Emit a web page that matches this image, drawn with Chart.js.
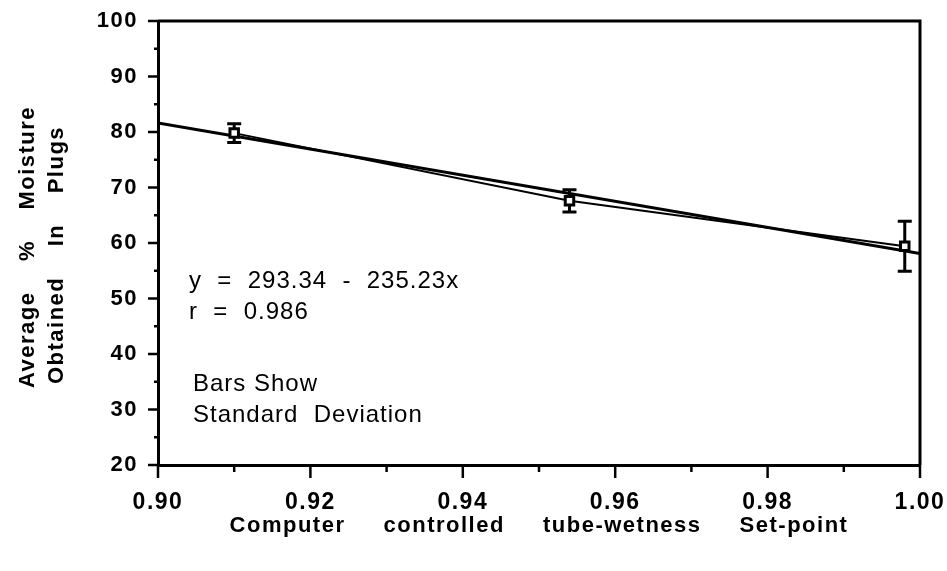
<!DOCTYPE html>
<html>
<head>
<meta charset="utf-8">
<script src="https://cdn.jsdelivr.net/npm/chart.js@4"></script>
<style>
  body { margin: 0; background: #fff; }
  #wrap { width: 947px; height: 571px; }
</style>
</head>
<body>
<div id="wrap"><canvas id="moistureChart" width="947" height="571"></canvas></div>
<script>
// values
const setPoints = [0.910, 0.954, 0.998];
const meanMoisture = [79.8, 67.6, 59.4];
const stdDev = [1.7, 2.0, 4.5];

// fitted line y = 293.34 - 235.23x, ends at the axis limits
const fitX = [0.90, 1.00];
const fitY = [81.63, 58.11];

const equationText = 'y  =  293.34  -  235.23x';
const rText = 'r  =  0.986';
const noteLines = ['Bars Show', 'Standard  Deviation'];
const yTitleLines = ['Average    %    Moisture', 'Obtained    In    Plugs'];
const xTitle = 'Computer     controlled     tube-wetness     Set-point';

const FONT = '"Liberation Sans", Arial, Helvetica, sans-serif';

const toXY = (xs, ys) => xs.map((x, i) => ({ x: x, y: ys[i] }));

// draws frame, ticks, error bars and the text on the plot
const decorations = {
  id: 'decorations',
  beforeDraw(chart) {
    chart.ctx.letterSpacing = '1.5px';
  },
  beforeDatasetsDraw(chart) {
    const ctx = chart.ctx;
    const xs = chart.scales.x, ys = chart.scales.y;
    ctx.save();
    ctx.strokeStyle = '#000';
    ctx.lineWidth = 3;
    setPoints.forEach((sp, i) => {
      const px = xs.getPixelForValue(sp);
      const top = ys.getPixelForValue(meanMoisture[i] + stdDev[i]);
      const bot = ys.getPixelForValue(meanMoisture[i] - stdDev[i]);
      ctx.beginPath();
      ctx.moveTo(px, top); ctx.lineTo(px, bot);
      ctx.moveTo(px - 7, top); ctx.lineTo(px + 7, top);
      ctx.moveTo(px - 7, bot); ctx.lineTo(px + 7, bot);
      ctx.stroke();
    });
    ctx.restore();
  },
  afterDraw(chart) {
    const ctx = chart.ctx;
    const a = chart.chartArea;
    const xs = chart.scales.x, ys = chart.scales.y;
    ctx.save();
    ctx.strokeStyle = '#000';
    ctx.lineWidth = 3;
    // top and right sides of the box
    ctx.beginPath();
    ctx.moveTo(a.left, a.top); ctx.lineTo(a.right, a.top); ctx.lineTo(a.right, a.bottom);
    ctx.stroke();

    // y ticks: major every 10, minor every 5
    ctx.lineWidth = 2.5;
    for (let v = 20; v <= 100; v += 5) {
      const py = ys.getPixelForValue(v);
      const len = v % 10 === 0 ? 10 : 4;
      ctx.beginPath(); ctx.moveTo(a.left - len, py); ctx.lineTo(a.left, py); ctx.stroke();
    }
    // x ticks: major every 0.02, minor every 0.01
    for (let k = 0; k <= 10; k++) {
      const px = xs.getPixelForValue(0.9 + k * 0.01);
      const len = k % 2 === 0 ? 13 : 7;
      ctx.beginPath(); ctx.moveTo(px, a.bottom); ctx.lineTo(px, a.bottom + len); ctx.stroke();
    }

    // text inside the plot
    ctx.fillStyle = '#000';
    ctx.textBaseline = 'middle';
    ctx.textAlign = 'left';
    ctx.letterSpacing = '1px';
    ctx.font = '24px ' + FONT;
    ctx.fillText(equationText, 189, 281);
    ctx.fillText(rText, 189, 312);
    ctx.fillText(noteLines[0], 193, 384);
    ctx.fillText(noteLines[1], 193, 415);

    // axis titles
    ctx.font = 'bold 22px ' + FONT;
    ctx.letterSpacing = '1.5px';
    ctx.textAlign = 'center';
    ctx.fillText(xTitle, 539, 526);
    ctx.save();
    ctx.translate(28, 247);
    ctx.rotate(-Math.PI / 2);
    ctx.fillText(yTitleLines[0], 0, 0);
    ctx.fillText(yTitleLines[1], -8, 29);
    ctx.restore();
    ctx.restore();
  }
};

new Chart(document.getElementById('moistureChart'), {
  type: 'scatter',
  data: {
    datasets: [
      {
        label: 'Mean moisture',
        data: toXY(setPoints, meanMoisture),
        showLine: true,
        borderColor: '#000',
        borderWidth: 2,
        pointStyle: 'rect',
        pointRadius: 6,
        pointBorderWidth: 3,
        pointBackgroundColor: '#fff',
        pointBorderColor: '#000'
      },
      {
        label: 'Fit',
        data: toXY(fitX, fitY),
        showLine: true,
        borderColor: '#000',
        borderWidth: 3,
        pointRadius: 0
      }
    ]
  },
  options: {
    responsive: false,
    animation: false,
    layout: { padding: { left: 0, right: 27, top: 21, bottom: 0 } },
    plugins: {
      legend: { display: false },
      tooltip: { enabled: false }
    },
    scales: {
      x: {
        type: 'linear',
        min: 0.9,
        max: 1.0,
        afterFit: s => {
          s.height = 106;
          s.paddingLeft = 0; s.paddingRight = 0;
        },
        border: { display: true, color: '#000', width: 3 },
        grid: { drawOnChartArea: false, drawTicks: false },
        ticks: {
          stepSize: 0.02,
          padding: 24,
          color: '#000',
          font: { family: FONT, size: 23, weight: 'bold' },
          callback: v => v.toFixed(2)
        }
      },
      y: {
        min: 20,
        max: 100,
        afterFit: s => {
          s.width = 158;
          s.paddingTop = 0; s.paddingBottom = 0;
        },
        border: { display: true, color: '#000', width: 3 },
        grid: { drawOnChartArea: false, drawTicks: false },
        ticks: {
          stepSize: 10,
          padding: 20,
          color: '#000',
          font: { family: FONT, size: 22, weight: 'bold' }
        }
      }
    }
  },
  plugins: [decorations]
});
</script>
</body>
</html>
